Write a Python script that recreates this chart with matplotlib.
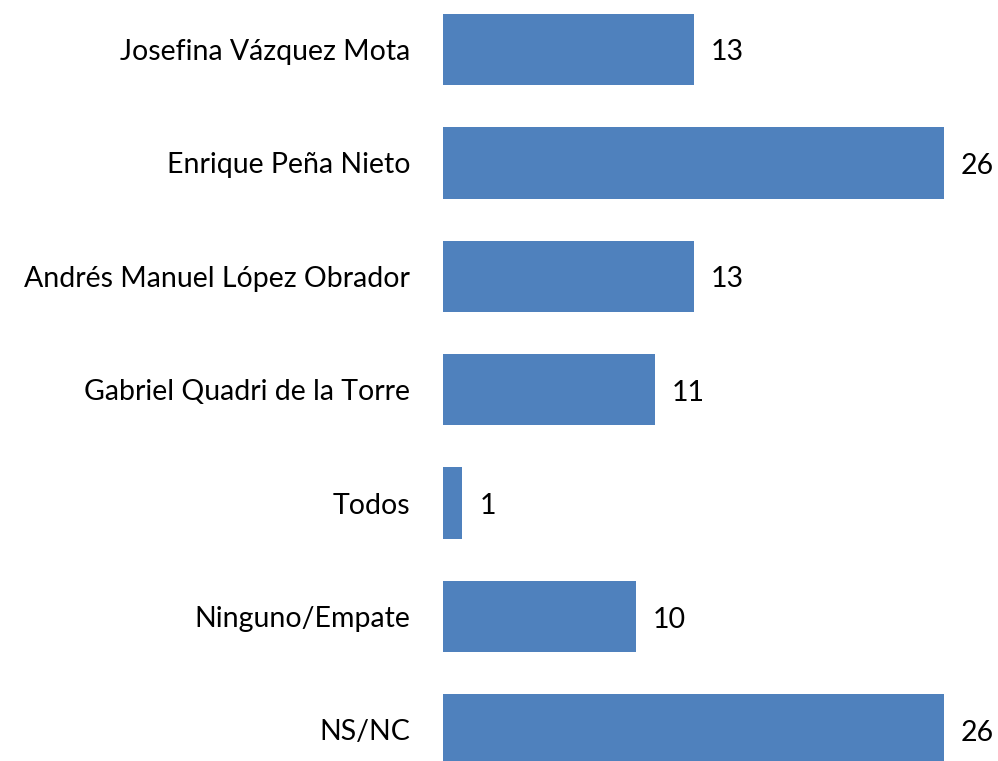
import matplotlib
matplotlib.use('Agg')
import matplotlib.pyplot as plt

categories = ['Josefina Vázquez Mota',
              'Enrique Peña Nieto',
              'Andrés Manuel López Obrador',
              'Gabriel Quadri de la Torre',
              'Todos',
              'Ninguno/Empate',
              'NS/NC']
values = [13, 26, 13, 11, 1, 10, 26]

plt.rcParams['font.family'] = ['Lato', 'DejaVu Sans']

W, H = 998, 761
fig = plt.figure(figsize=(W / 100, H / 100), dpi=100)
left = 443 / W
ax = fig.add_axes([left, 0, 1 - left, 1])

pos = list(range(len(categories)))
ax.barh(pos, values, height=0.63, color='#4F81BD')

# values next to the bars
for p, v in zip(pos, values):
    ax.annotate(str(v), (v, p), xytext=(17, -3), textcoords='offset pixels',
                va='center', ha='left', fontsize=20.5, color='black')

# category labels left of the axes
ax.set_yticks(pos)
ax.set_yticklabels(categories, fontsize=20.5)
ax.tick_params(axis='y', length=0, pad=23.5)
ax.set_xticks([])

px_per_unit = (944 - 443) / 26
ax.set_xlim(0, (W - 443) / px_per_unit)
top = -49.5 / 113.4
bottom = (H - 49.5) / 113.4
ax.set_ylim(bottom, top)

for s in ax.spines.values():
    s.set_visible(False)

fig.savefig('out.png', dpi=100)
